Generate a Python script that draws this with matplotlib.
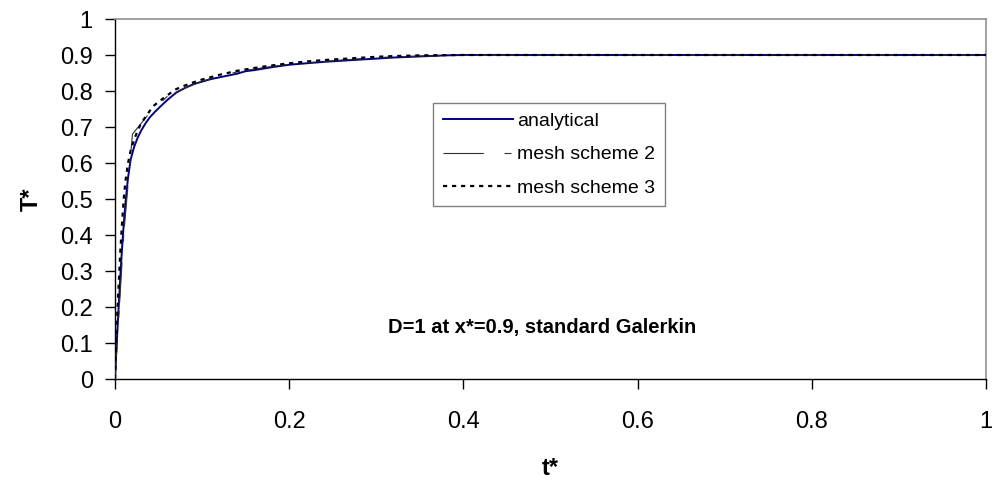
import matplotlib
matplotlib.use("Agg")
import matplotlib.pyplot as plt

plt.rcParams['font.family'] = ['Liberation Sans', 'DejaVu Sans']
plt.rcParams['lines.scale_dashes'] = False

# analytical solution
t_analytical = [0, 0.002, 0.004, 0.006, 0.008, 0.010, 0.012, 0.015, 0.018, 0.022,
                0.026, 0.030, 0.035, 0.040, 0.045, 0.050, 0.06, 0.07, 0.08, 0.09,
                0.10, 0.11, 0.12, 0.13, 0.14, 0.15, 0.16, 0.18, 0.20, 0.22, 0.24,
                0.26, 0.28, 0.30, 0.32, 0.34, 0.36, 0.38, 0.40, 0.5, 0.6, 0.7,
                0.8, 0.9, 1.0]
T_analytical = [0, 0.10, 0.19, 0.28, 0.36, 0.43, 0.49, 0.56, 0.61, 0.645,
                0.67, 0.69, 0.71, 0.727, 0.74, 0.752, 0.775, 0.795, 0.808, 0.819,
                0.826, 0.833, 0.838, 0.843, 0.848, 0.855, 0.858, 0.866, 0.873, 0.877, 0.881,
                0.884, 0.887, 0.890, 0.893, 0.895, 0.897, 0.899, 0.900, 0.9, 0.9, 0.9,
                0.9, 0.9, 0.9]

# mesh scheme 2
t_mesh2 = [0, 0.01, 0.02, 0.04, 0.06, 0.08, 0.10, 0.12, 0.14, 0.16, 0.18, 0.20,
           0.25, 0.30, 0.35, 0.40, 0.5, 0.6, 0.7, 0.8, 0.9, 1.0]
T_mesh2 = [0, 0.40, 0.68, 0.74, 0.785, 0.808, 0.827, 0.842, 0.853, 0.861, 0.868, 0.874,
           0.884, 0.893, 0.897, 0.899, 0.9, 0.9, 0.9, 0.9, 0.9, 0.9]

# mesh scheme 3
t_mesh3 = [0, 0.002, 0.004, 0.006, 0.008, 0.010, 0.012, 0.015, 0.018, 0.022,
           0.026, 0.030, 0.035, 0.040, 0.045, 0.050, 0.06, 0.07, 0.08, 0.09,
           0.10, 0.12, 0.14, 0.16, 0.18, 0.20, 0.22, 0.24, 0.26, 0.28, 0.30,
           0.32, 0.35, 0.40, 0.5, 0.6, 0.7, 0.8, 0.9, 1.0]
T_mesh3 = [0, 0.15, 0.25, 0.35, 0.43, 0.50, 0.55, 0.60, 0.635, 0.665,
           0.69, 0.71, 0.728, 0.745, 0.76, 0.77, 0.788, 0.805, 0.815, 0.824,
           0.832, 0.845, 0.856, 0.864, 0.871, 0.877, 0.882, 0.886, 0.889, 0.892, 0.895,
           0.897, 0.899, 0.900, 0.9, 0.9, 0.9, 0.9, 0.9, 0.9]

x_ticks = [0, 0.2, 0.4, 0.6, 0.8, 1]
x_tick_labels = ['0', '0.2', '0.4', '0.6', '0.8', '1']
y_ticks = [0, 0.1, 0.2, 0.3, 0.4, 0.5, 0.6, 0.7, 0.8, 0.9, 1]
y_tick_labels = ['0', '0.1', '0.2', '0.3', '0.4', '0.5', '0.6', '0.7', '0.8', '0.9', '1']

fig = plt.figure(figsize=(9.97, 4.86), dpi=100)
ax = fig.add_axes([115/997, 1-379/486, 871/997, 360/486])

ax.plot(t_analytical, T_analytical, color='#000080', lw=1.4, label='analytical', zorder=3)
ax.plot(t_mesh2, T_mesh2, color='#303030', lw=0.8, dashes=(29, 15, 5, 6),
        label='mesh scheme 2', zorder=4)
ax.plot(t_mesh3, T_mesh3, color='black', lw=1.6, dashes=(3, 3.5),
        label='mesh scheme 3', zorder=5)

ax.set_xlim(0, 1)
ax.set_ylim(0, 1)
ax.set_xticks(x_ticks)
ax.set_xticklabels(x_tick_labels)
ax.set_yticks(y_ticks)
ax.set_yticklabels(y_tick_labels)
ax.tick_params(direction='out', length=7, width=1, color='black', labelsize=17)
ax.tick_params(axis='y', pad=9)
ax.tick_params(axis='x', pad=16)

for s in ['left', 'bottom']:
    ax.spines[s].set_color('black')
    ax.spines[s].set_linewidth(1)
for s in ['top', 'right']:
    ax.spines[s].set_color('#909090')
    ax.spines[s].set_linewidth(1.2)

ax.set_xlabel('t*', fontsize=17, fontweight='bold', labelpad=17)
ax.set_ylabel('T*', fontsize=17, fontweight='bold', labelpad=12)

leg = ax.legend(loc='upper left', bbox_to_anchor=(0.365, 0.767), borderaxespad=0,
                fontsize=14, fancybox=False, edgecolor='#808080', framealpha=1,
                handlelength=3.6, handletextpad=0.25, labelspacing=0.8,
                borderpad=0.5)
leg.get_frame().set_linewidth(1)

ax.text(0.313, 0.142, 'D=1 at x*=0.9, standard Galerkin', transform=ax.transAxes,
        fontsize=14.5, fontweight='bold', ha='left', va='center')

fig.savefig('out.png', dpi=100)
